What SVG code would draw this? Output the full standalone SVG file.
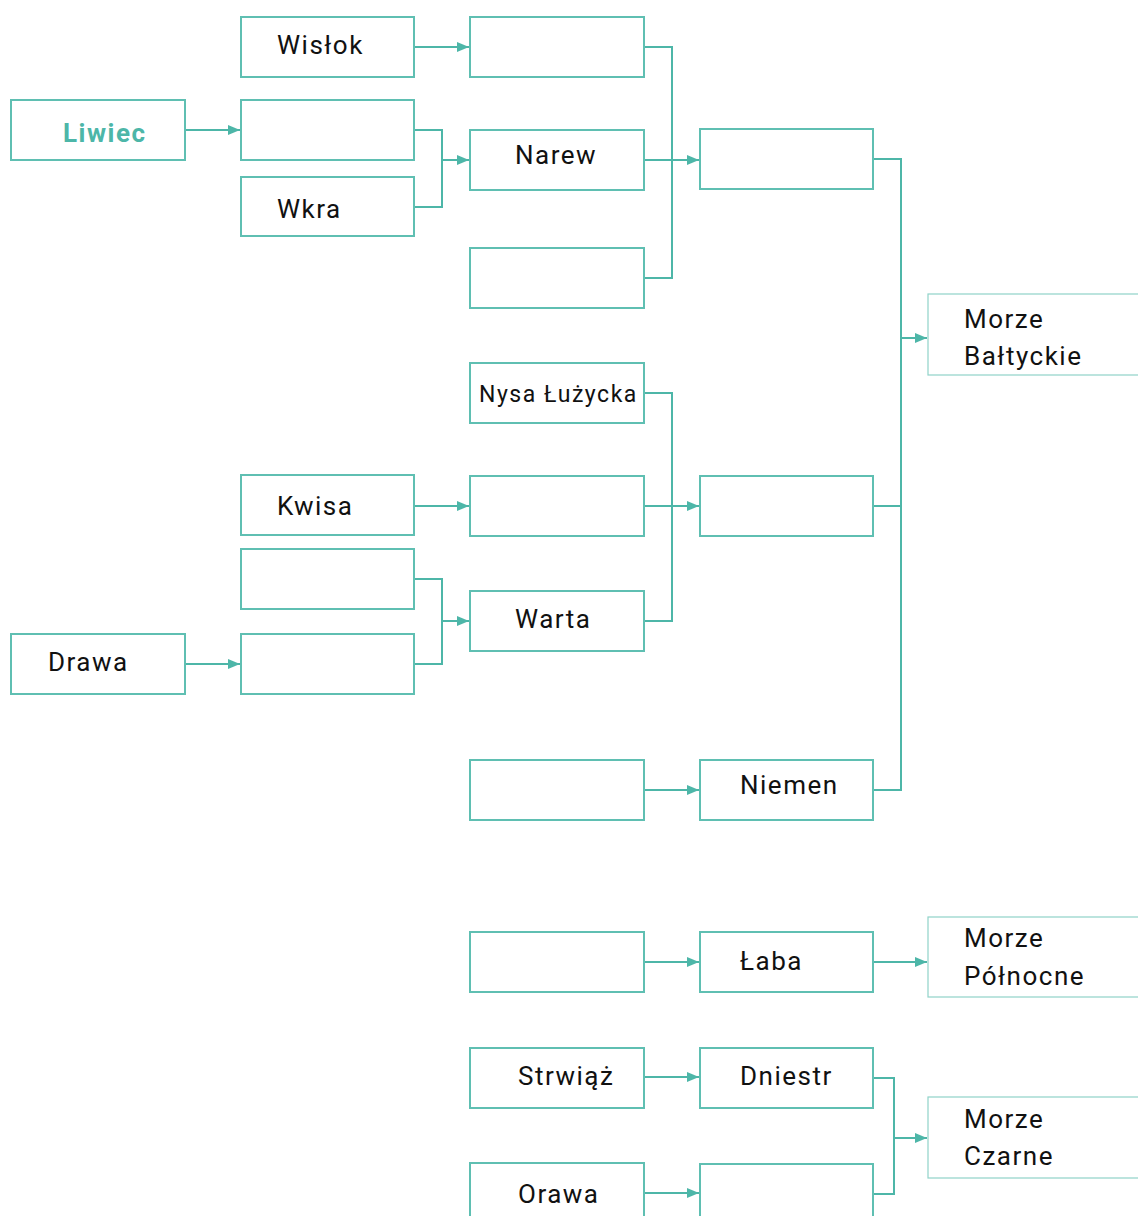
<svg xmlns="http://www.w3.org/2000/svg" width="1138" height="1216" viewBox="0 0 1138 1216">
<style>
.b{fill:#fff;stroke:#5fbfb2;stroke-width:2}
.s{fill:#fff;stroke:#8fd3c9;stroke-width:1.2}
.t{font-family:Roboto,"Liberation Sans",sans-serif;font-size:26px;letter-spacing:1.5px;fill:#111}
.h{font-weight:bold;fill:#4db6a8}
.c{fill:none;stroke:#4db6a8;stroke-width:2}
</style>
<defs>
<marker id="a" markerUnits="userSpaceOnUse" markerWidth="12" markerHeight="12" viewBox="0 0 12 12" refX="12" refY="6" orient="auto">
<path d="M0,1 L12,6 L0,11 Z" fill="#4db6a8"/>
</marker>
</defs>
<g id="connectors">
<path class="c" d="M185,130 H240" marker-end="url(#a)"/>
<path class="c" d="M414,47 H469" marker-end="url(#a)"/>
<path class="c" d="M414,130 H442 V207 H414"/>
<path class="c" d="M442,160 H469" marker-end="url(#a)"/>
<path class="c" d="M644,47 H672 V278 H644"/>
<path class="c" d="M644,160 H699" marker-end="url(#a)"/>
<path class="c" d="M873,159 H901 V790 H873"/>
<path class="c" d="M873,506 H901"/>
<path class="c" d="M901,338 H927" marker-end="url(#a)"/>
<path class="c" d="M644,393 H672 V621 H644"/>
<path class="c" d="M644,506 H699" marker-end="url(#a)"/>
<path class="c" d="M414,506 H469" marker-end="url(#a)"/>
<path class="c" d="M414,579 H442 V664 H414"/>
<path class="c" d="M442,621 H469" marker-end="url(#a)"/>
<path class="c" d="M185,664 H240" marker-end="url(#a)"/>
<path class="c" d="M641,790 H699" marker-end="url(#a)"/>
<path class="c" d="M644,962 H699" marker-end="url(#a)"/>
<path class="c" d="M873,962 H927" marker-end="url(#a)"/>
<path class="c" d="M644,1077 H699" marker-end="url(#a)"/>
<path class="c" d="M644,1193 H699" marker-end="url(#a)"/>
<path class="c" d="M873,1078 H894 V1194 H873"/>
<path class="c" d="M894,1138 H927" marker-end="url(#a)"/>
</g>
<g id="liwiec"><rect class="b" x="11" y="100" width="174" height="60"/><text class="t h" x="63" y="142">Liwiec</text></g>
<g id="drawa"><rect class="b" x="11" y="634" width="174" height="60"/><text class="t" x="48" y="671">Drawa</text></g>
<g id="wislok"><rect class="b" x="241" y="17" width="173" height="60"/><text class="t" x="277" y="54">Wisłok</text></g>
<g id="c2b1"><rect class="b" x="241" y="100" width="173" height="60"/></g>
<g id="wkra"><rect class="b" x="241" y="177" width="173" height="59"/><text class="t" x="277" y="218">Wkra</text></g>
<g id="kwisa"><rect class="b" x="241" y="475" width="173" height="60"/><text class="t" x="277" y="515">Kwisa</text></g>
<g id="c2b2"><rect class="b" x="241" y="549" width="173" height="60"/></g>
<g id="c2b3"><rect class="b" x="241" y="634" width="173" height="60"/></g>
<g id="c3b1"><rect class="b" x="470" y="17" width="174" height="60"/></g>
<g id="narew"><rect class="b" x="470" y="130" width="174" height="60"/><text class="t" x="515" y="164">Narew</text></g>
<g id="c3b2"><rect class="b" x="470" y="248" width="174" height="60"/></g>
<g id="nysa"><rect class="b" x="470" y="363" width="174" height="60"/><text class="t" x="479" y="402" style="font-size:23px">Nysa Łużycka</text></g>
<g id="c3b3"><rect class="b" x="470" y="476" width="174" height="60"/></g>
<g id="warta"><rect class="b" x="470" y="591" width="174" height="60"/><text class="t" x="515" y="628">Warta</text></g>
<g id="c3b4"><rect class="b" x="470" y="760" width="174" height="60"/></g>
<g id="c3b5"><rect class="b" x="470" y="932" width="174" height="60"/></g>
<g id="strwiaz"><rect class="b" x="470" y="1048" width="174" height="60"/><text class="t" x="518" y="1085">Strwiąż</text></g>
<g id="orawa"><rect class="b" x="470" y="1163" width="174" height="60"/><text class="t" x="518" y="1203">Orawa</text></g>
<g id="c4b1"><rect class="b" x="700" y="129" width="173" height="60"/></g>
<g id="c4b2"><rect class="b" x="700" y="476" width="173" height="60"/></g>
<g id="niemen"><rect class="b" x="700" y="760" width="173" height="60"/><text class="t" x="740" y="794">Niemen</text></g>
<g id="laba"><rect class="b" x="700" y="932" width="173" height="60"/><text class="t" x="740" y="970">Łaba</text></g>
<g id="dniestr"><rect class="b" x="700" y="1048" width="173" height="60"/><text class="t" x="740" y="1085">Dniestr</text></g>
<g id="c4b3"><rect class="b" x="700" y="1164" width="173" height="60"/></g>
<g id="baltyk"><rect class="s" x="928" y="294" width="240" height="81"/><text class="t" x="964" y="328">Morze</text><text class="t" x="964" y="365">Bałtyckie</text></g>
<g id="polnocne"><rect class="s" x="928" y="917" width="240" height="80"/><text class="t" x="964" y="947">Morze</text><text class="t" x="964" y="985">Północne</text></g>
<g id="czarne"><rect class="s" x="928" y="1097" width="240" height="81"/><text class="t" x="964" y="1128">Morze</text><text class="t" x="964" y="1165">Czarne</text></g>
</svg>
